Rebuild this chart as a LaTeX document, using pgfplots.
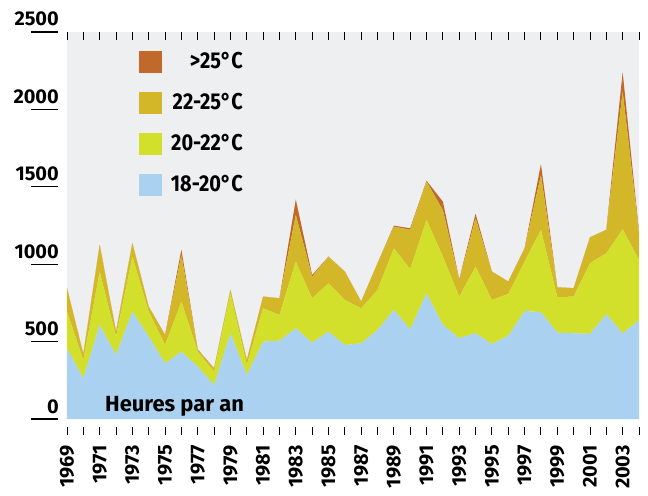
\documentclass[border=0pt]{standalone}
\usepackage{pgfplots}
\pgfplotsset{compat=1.18}
\usepackage{pgfplotstable}
\usepackage{fontspec}
\setmainfont{Fira Sans}[FakeStretch=0.87]
\newfontfamily\plainfam{Fira Sans}
\definecolor{bg}{RGB}{238,239,241}
\definecolor{cblue}{RGB}{171,209,241}
\definecolor{cgreen}{RGB}{210,224,44}
\definecolor{cgold}{RGB}{212,182,41}
\definecolor{corange}{RGB}{192,105,42}
\newcommand{\tickfont}{\plainfam\bfseries\fontsize{20}{20}\selectfont}

\pgfplotstableread{
year blue green gold orange
1969 457 237 151 0
1970 263 117 40 0
1971 608 344 173 0
1972 414 118 33 0
1973 694 355 87 0
1974 532 162 32 0
1975 360 118 65 0
1976 435 324 300 35
1977 338 97 11 3
1978 220 86 22 0
1979 554 258 22 0
1980 284 65 32 0
1981 500 215 76 0
1982 506 166 108 0
1983 586 431 301 100
1984 493 287 140 10
1985 565 312 172 0
1986 478 291 183 0
1987 489 226 44 0
1988 575 259 172 0
1989 705 398 140 6
1990 580 388 254 10
1991 812 475 247 5
1992 608 441 300 55
1993 522 269 108 3
1994 554 431 311 30
1995 485 284 183 0
1996 537 271 80 0
1997 698 319 86 0
1998 690 532 354 70
1999 558 229 64 0
2000 554 237 54 0
2001 550 456 168 0
2002 677 394 151 0
2003 554 672 889 125
2004 636 392 172 11
}\datatable

\begin{document}
\begin{tikzpicture}
\path[use as bounding box] (-67bp,-77bp) rectangle (581bp,419bp);
\begin{axis}[
  at={(0,0)}, anchor=south west,
  scale only axis, width=572bp, height=387bp,
  xmin=1969, xmax=2004, ymin=0, ymax=2500,
  clip=false,
  axis background/.style={fill=bg},
  axis line style={draw=none},
  stack plots=y,
  /pgf/number format/1000 sep={},
  /pgf/number format/assume math mode=true,
  xticklabel={\tickfont\pgfmathprintnumber[assume math mode=true,1000 sep={}]{\tick}},
  yticklabel={\tickfont\pgfmathprintnumber[assume math mode=true,1000 sep={}]{\tick}},
  xtick={1969,1971,...,2003},
  minor xtick={1970,1972,...,2004},
  tick align=outside,
  major tick length=8bp, minor tick length=8bp,
  tick style={black, line width=0.9pt},
  xtick style={yshift=-8bp},
  ytick style={draw=none},
  ytick={0,500,1000,1500,2000,2500},
  xticklabel style={rotate=90, anchor=east, inner sep=0pt},
  xticklabel shift=18bp,
  yticklabel style={anchor=base east, inner sep=0pt, yshift=6bp},
]
\addplot[draw=none, fill=cblue] table[x=year, y=blue] {\datatable} \closedcycle;
\addplot[draw=none, fill=cgreen] table[x=year, y=green] {\datatable} \closedcycle;
\addplot[draw=none, fill=cgold] table[x=year, y=gold] {\datatable} \closedcycle;
\addplot[draw=none, fill=corange] table[x=year, y=orange] {\datatable} \closedcycle;
\pgfplotsinvokeforeach{0,500,1000,1500,2000,2500}{
  \draw[black, line width=1.2pt] ([xshift=-36bp]axis cs:1969,#1) -- ([xshift=-9bp]axis cs:1969,#1);
}
\end{axis}
\node[anchor=base west, inner sep=0pt, font=\plainfam\bfseries\fontsize{22}{22}\selectfont] at (38bp,8bp) {Heures par an};
\begin{scope}[font=\bfseries\fontsize{23}{23}\selectfont]
\fill[corange] (72bp,346bp) rectangle (95bp,368bp);
\node[anchor=base east, inner sep=0pt] at (176bp,350bp) {>25°C};
\fill[cgold] (72bp,305bp) rectangle (95bp,327bp);
\node[anchor=base east, inner sep=0pt] at (176bp,309bp) {22-25°C};
\fill[cgreen] (72bp,264bp) rectangle (95bp,286bp);
\node[anchor=base east, inner sep=0pt] at (176bp,268bp) {20-22°C};
\fill[cblue] (72bp,223bp) rectangle (95bp,245bp);
\node[anchor=base east, inner sep=0pt] at (176bp,227bp) {18-20°C};
\end{scope}
\end{tikzpicture}
\end{document}
